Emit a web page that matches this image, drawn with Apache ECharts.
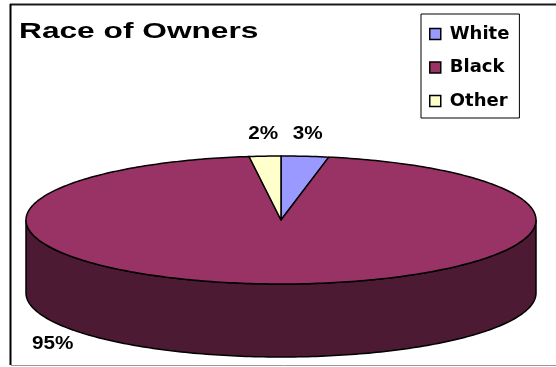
<!DOCTYPE html>
<html>
<head>
<meta charset="utf-8">
<title>Race of Owners</title>
<script src="https://cdn.jsdelivr.net/npm/echarts@6/dist/echarts.min.js"></script>
<style>
  html, body { margin: 0; padding: 0; background: #fff; }
  #main { width: 556px; height: 367px; }
</style>
</head>
<body>
<div id="main"></div>
<script>
// data
var names = ['White', 'Black', 'Other'];
var values = [3, 95, 2];
var colors = ['#9999ff', '#993366', '#ffffcc'];
var sideColors = ['#4d4d80', '#4c1a33', '#808066'];
// excel put the big label at the bottom left, not at the mid angle
var labelAngles = [null, 243.5, null];

// 3d pie layout (tilted ellipse)
var cx = 281, cy = 220, rx = 255, ry = 64, depth = 73;
var total = values.reduce(function (a, b) { return a + b; }, 0);

function pt(a, dy) {
  var r = a * Math.PI / 180;
  return [cx + rx * Math.sin(r), cy - ry * Math.cos(r) + (dy || 0)];
}

function arc(a0, a1, dy) {
  var out = [];
  var n = Math.max(2, Math.ceil(Math.abs(a1 - a0)));
  for (var k = 0; k <= n; k++) {
    out.push(pt(a0 + (a1 - a0) * k / n, dy));
  }
  return out;
}

function renderSlice(i) {
  return function (params, api) {
    var before = 0;
    for (var j = 0; j < i; j++) before += values[j];
    var a0 = before / total * 360;
    var a1 = (before + api.value(0)) / total * 360;
    var kids = [];

    // front wall, only the part between 90 and 270 deg is seen
    var s = Math.max(a0, 90), e = Math.min(a1, 270);
    if (s < e) {
      var side = arc(s, e, 0).concat(arc(e, s, depth));
      kids.push({
        type: 'polygon', z2: 1,
        shape: { points: side },
        style: { fill: sideColors[i], stroke: '#000', lineWidth: 1.5 }
      });
    }

    var top = [[cx, cy]].concat(arc(a0, a1, 0));
    kids.push({
      type: 'polygon', z2: 5,
      shape: { points: top },
      style: { fill: colors[i], stroke: '#000', lineWidth: 1.5, lineJoin: 'round' }
    });

    // percent label
    var la = labelAngles[i] != null ? labelAngles[i] : (a0 + a1) / 2;
    var r = la * Math.PI / 180;
    var lx, ly;
    if (Math.cos(r) < 0) {
      lx = cx + rx * Math.sin(r);
      ly = cy - ry * Math.cos(r) + depth + 22;
    } else {
      lx = cx + (rx + 30) * Math.sin(r);
      ly = cy - ry * Math.cos(r) - 22;
    }
    kids.push({
      type: 'text', z2: 10,
      x: lx, y: ly, scaleX: 1.15,
      style: {
        text: Math.round(api.value(0) / total * 100) + '%',
        align: 'center', verticalAlign: 'middle',
        font: 'bold 18px "Liberation Sans", Arial, sans-serif',
        fill: '#000'
      }
    });

    return { type: 'group', children: kids };
  };
}

var chart = echarts.init(document.getElementById('main'));

var option = {
  backgroundColor: '#fff',
  animation: false,
  legend: {
    orient: 'vertical',
    left: 421,
    top: 14,
    padding: [10, 10, 7, 8],
    itemGap: 13.5,
    itemWidth: 11,
    itemHeight: 11,
    icon: 'rect',
    borderColor: '#000',
    borderWidth: 1,
    itemStyle: { borderColor: '#000', borderWidth: 1.5 },
    selectedMode: false,
    textStyle: {
      fontFamily: 'DejaVu Sans',
      fontWeight: 'bold',
      fontSize: 18,
      lineHeight: 20,
      color: '#000',
      padding: [0, 0, 0, 4]
    },
    data: names
  },
  graphic: [
    { type: 'line', shape: { x1: 10, y1: 4.5, x2: 556, y2: 4.5 }, style: { stroke: '#1a1a1a', lineWidth: 2 } },
    { type: 'line', shape: { x1: 10.5, y1: 4, x2: 10.5, y2: 365 }, style: { stroke: '#000', lineWidth: 2 } },
    { type: 'line', shape: { x1: 11, y1: 365.5, x2: 556, y2: 365.5 }, style: { stroke: '#999', lineWidth: 1 } },
    {
      type: 'text', x: 19, y: 32, scaleX: 1.44,
      style: {
        text: 'Race of Owners',
        font: 'bold 22px "Liberation Sans", Arial, sans-serif',
        verticalAlign: 'middle',
        fill: '#000'
      }
    }
  ],
  series: names.map(function (n, i) {
    return {
      type: 'custom',
      name: n,
      coordinateSystem: 'none',
      itemStyle: { color: colors[i] },
      data: [[values[i]]],
      renderItem: renderSlice(i)
    };
  })
};

chart.setOption(option);
</script>
</body>
</html>
